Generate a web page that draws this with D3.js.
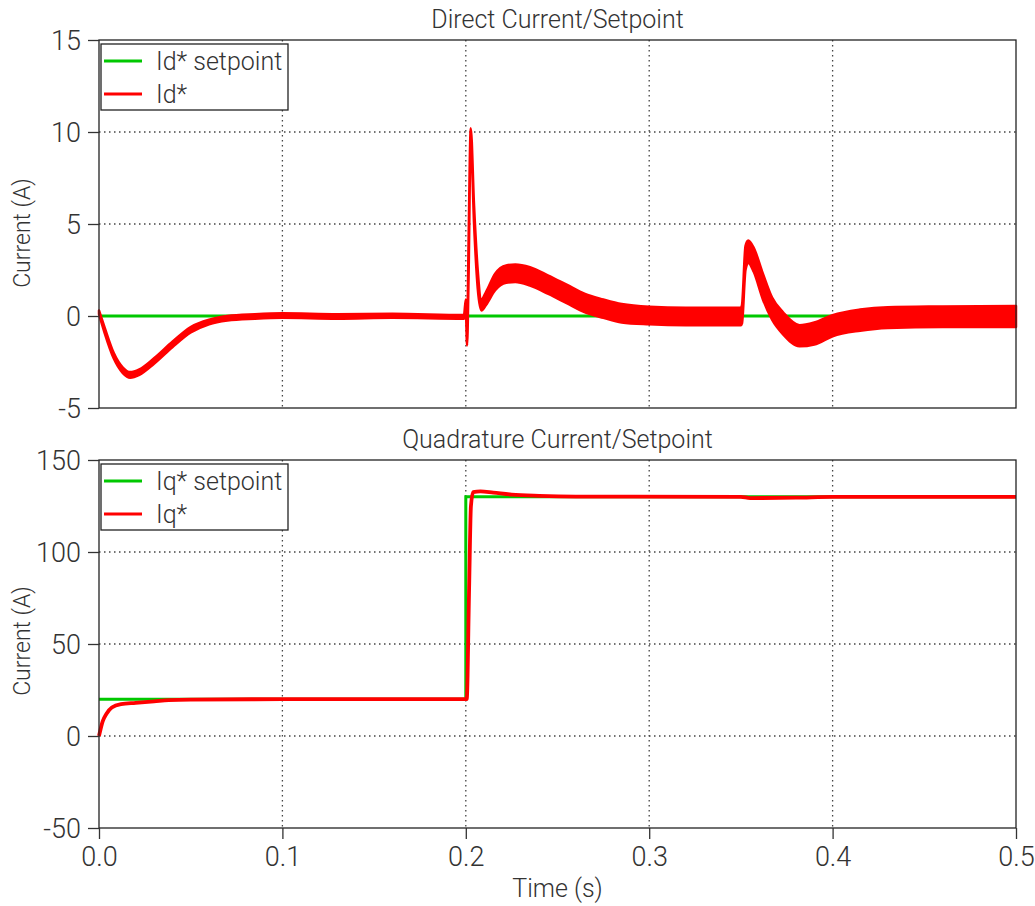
<!DOCTYPE html>
<html>
<head>
<meta charset="utf-8">
<script src="https://cdn.jsdelivr.net/npm/d3@7"></script>
<style>
  body { margin: 0; background: #fff; }
  text { font-family: Roboto, "DejaVu Sans", sans-serif; font-weight: 300; fill: #333; }
</style>
</head>
<body>
<div id="container"></div>
<script>
let w = 1035;
let h = 906;

// ---- data ----
// direct current Id*: envelope of the ripple band (low / high) at each time
let idTime = [0.000, 0.003, 0.008, 0.013, 0.017, 0.022, 0.030, 0.040, 0.050, 0.060, 0.070, 0.085, 0.100, 0.130, 0.160, 0.1990,
              0.2000, 0.2007, 0.2015, 0.2027, 0.2045, 0.2065, 0.2085, 0.2110, 0.216, 0.222, 0.227, 0.235, 0.245, 0.255, 0.265,
              0.275, 0.285, 0.300, 0.320, 0.3500, 0.3506, 0.3525, 0.3540, 0.357, 0.362, 0.367, 0.373, 0.382, 0.390, 0.400,
              0.415, 0.430, 0.460, 0.500];
let idLow  = [0.1, -0.9, -2.3, -3.1, -3.35, -3.2, -2.6, -1.7, -0.9, -0.45, -0.25, -0.15, -0.1, -0.15, -0.1, -0.15,
              0.3, -1.6, 2.0, 9.7, 5.0, 1.5, 0.3, 0.6, 1.4, 1.8, 1.85, 1.65, 1.2, 0.7, 0.2,
              -0.1, -0.35, -0.45, -0.5, -0.5, -0.4, 2.5, 2.9, 2.4, 0.9, -0.2, -1.0, -1.65, -1.55, -1.1,
              -0.8, -0.65, -0.6, -0.6];
let idHigh = [0.3, -0.6, -2.0, -2.8, -3.05, -2.9, -2.3, -1.4, -0.6, -0.2, 0.0, 0.1, 0.15, 0.1, 0.12, 0.05,
              0.9, -1.0, 4.0, 10.2, 6.0, 2.5, 0.9, 1.3, 2.3, 2.75, 2.8, 2.65, 2.2, 1.7, 1.2,
              0.9, 0.65, 0.5, 0.45, 0.45, 0.6, 3.8, 4.1, 3.7, 2.3, 1.0, 0.2, -0.5, -0.35, 0.05,
              0.35, 0.48, 0.52, 0.55];
let idSetTime = [0.0, 0.5];
let idSetValue = [0, 0];

// quadrature current Iq*
let iqTime  = [0.000, 0.002, 0.004, 0.007, 0.012, 0.020, 0.030, 0.038, 0.050, 0.100, 0.2005, 0.2018, 0.2028, 0.2040,
               0.208, 0.215, 0.225, 0.240, 0.260, 0.350, 0.355, 0.380, 0.400, 0.500];
let iqValue = [0, 8, 12, 15.5, 17.3, 18.0, 18.8, 19.5, 19.8, 20, 20, 80, 125, 132.5,
               133, 132.3, 131.2, 130.5, 130.1, 130, 129.3, 129.5, 130, 130];
let iqSetTime = [0.0, 0.2, 0.5];
let iqSetValue = [20, 130, 130];

let xTicks = [0.0, 0.1, 0.2, 0.3, 0.4, 0.5];
let idTicks = [-5, 0, 5, 10, 15];
let iqTicks = [-50, 0, 50, 100, 150];

let green = "#00c800";
let red = "#ff0000";

let viz = d3.select('#container')
              .append("svg")
                .attr("width", w)
                .attr("height", h)
                .style("background-color", "#ffffff")
;

let left = 99, right = 1016;
let x = d3.scaleLinear().domain([0, 0.5]).range([left, right]);

function panel(cfg) {
  let y = d3.scaleLinear().domain(cfg.domain).range([cfg.bottom, cfg.top]);
  let g = viz.append("g");

  // grid
  g.selectAll(".vgrid").data(xTicks.slice(1, -1)).enter().append("line")
      .attr("x1", d => x(d)).attr("x2", d => x(d))
      .attr("y1", cfg.top).attr("y2", cfg.bottom)
      .attr("stroke", "#444").attr("stroke-width", 1.3)
      .attr("stroke-dasharray", "1.5,3.5");
  g.selectAll(".hgrid").data(cfg.ticks.slice(1, -1)).enter().append("line")
      .attr("x1", left).attr("x2", right)
      .attr("y1", d => y(d)).attr("y2", d => y(d))
      .attr("stroke", "#444").attr("stroke-width", 1.3)
      .attr("stroke-dasharray", "1.5,3.5");

  // setpoint line
  g.append("path")
      .datum(cfg.setT.map((t, i) => [t, cfg.setV[i]]))
      .attr("d", d3.line().x(d => x(d[0])).y(d => y(d[1])).curve(d3.curveStepAfter))
      .attr("fill", "none").attr("stroke", green).attr("stroke-width", 3);

  // measured
  cfg.drawMeasured(g, y);

  // frame
  g.append("rect")
      .attr("x", left).attr("y", cfg.top)
      .attr("width", right - left).attr("height", cfg.bottom - cfg.top)
      .attr("fill", "none").attr("stroke", "#222").attr("stroke-width", 1.3);

  // y axis
  let ya = g.append("g").attr("transform", "translate(" + left + ",0)")
      .call(d3.axisLeft(y).tickValues(cfg.ticks).tickFormat(d => String(d)).tickSize(11).tickPadding(7));
  ya.select(".domain").remove();
  ya.selectAll("line").attr("stroke", "#333").attr("stroke-width", 1.3);
  ya.selectAll("text").style("font-size", "27px").attr("fill", "#333").attr("dy", "0.35em");

  // x axis
  if (cfg.xLabels) {
    let xa = g.append("g").attr("transform", "translate(0," + cfg.bottom + ")")
        .call(d3.axisBottom(x).tickValues(xTicks).tickFormat(d3.format(".1f")).tickSize(11).tickPadding(8));
    xa.select(".domain").remove();
    xa.selectAll("line").attr("stroke", "#333").attr("stroke-width", 1.3);
    xa.selectAll("text").style("font-size", "27px").attr("fill", "#333");
  }

  // title
  g.append("text")
      .attr("x", (left + right) / 2).attr("y", cfg.top - 12)
      .attr("text-anchor", "middle")
      .style("font-size", "25px")
      .text(cfg.title);

  // y label
  g.append("text")
      .attr("transform", "translate(30," + cfg.labelY + ") rotate(-90)")
      .attr("text-anchor", "middle")
      .style("font-size", "23px")
      .text("Current (A)");

  // legend
  let lg = g.append("g").attr("transform", "translate(" + (left + 2) + "," + (cfg.top + 4) + ")");
  lg.append("rect").attr("width", 187).attr("height", 66)
      .attr("fill", "#fff").attr("stroke", "#222").attr("stroke-width", 1.3);
  let items = [[cfg.names[0], green], [cfg.names[1], red]];
  items.forEach((it, i) => {
    lg.append("line").attr("x1", 3).attr("x2", 41)
        .attr("y1", 17 + i * 33).attr("y2", 17 + i * 33)
        .attr("stroke", it[1]).attr("stroke-width", 3);
    lg.append("text").attr("x", 55).attr("y", 17 + i * 33).attr("dy", "0.36em")
        .style("font-size", "25px").text(it[0]);
  });
}

panel({
  top: 40, bottom: 408, domain: [-5, 15], ticks: idTicks, labelY: 233,
  title: "Direct Current/Setpoint", names: ["Id* setpoint", "Id*"],
  setT: idSetTime, setV: idSetValue, xLabels: false,
  drawMeasured: function(g, y) {
    let band = idTime.map((t, i) => ({t: t, lo: idLow[i], hi: idHigh[i]}));
    g.append("path")
        .datum(band)
        .attr("d", d3.area().x(d => x(d.t)).y0(d => y(d.lo)).y1(d => y(d.hi)).curve(d3.curveMonotoneX))
        .attr("fill", red).attr("stroke", red).attr("stroke-width", 2.5)
        .attr("stroke-linejoin", "round");
  }
});

panel({
  top: 460, bottom: 828, domain: [-50, 150], ticks: iqTicks, labelY: 641,
  title: "Quadrature Current/Setpoint", names: ["Iq* setpoint", "Iq*"],
  setT: iqSetTime, setV: iqSetValue, xLabels: true,
  drawMeasured: function(g, y) {
    g.append("path")
        .datum(iqTime.map((t, i) => [t, iqValue[i]]))
        .attr("d", d3.line().x(d => x(d[0])).y(d => y(d[1])).curve(d3.curveMonotoneX))
        .attr("fill", "none").attr("stroke", red).attr("stroke-width", 3.8);
  }
});

// x label
viz.append("text")
    .attr("x", (left + right) / 2).attr("y", 897)
    .attr("text-anchor", "middle")
    .style("font-size", "25px")
    .text("Time (s)");
</script>
</body>
</html>
